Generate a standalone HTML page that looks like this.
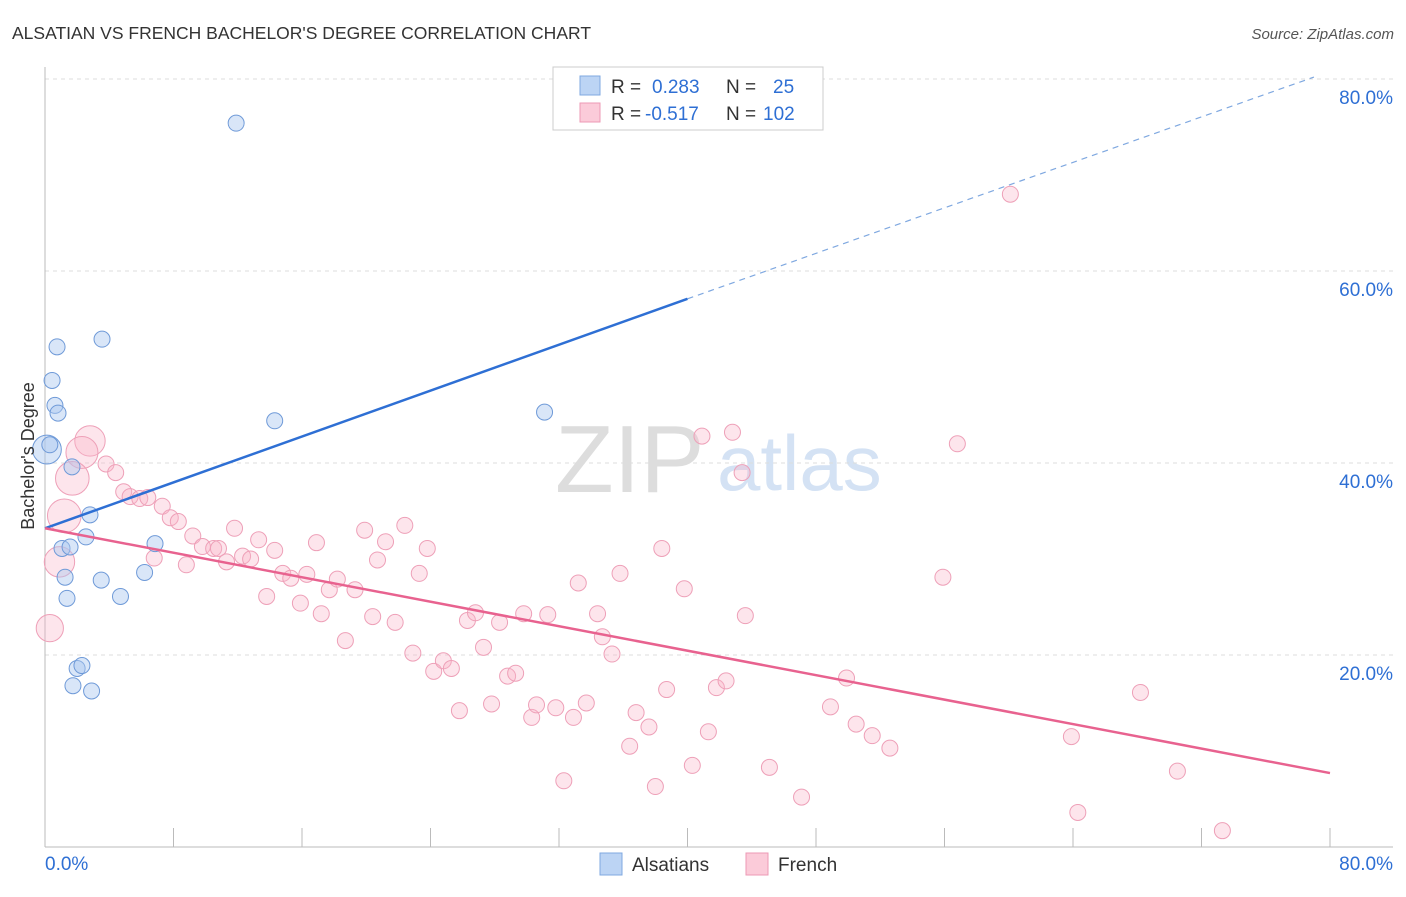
<!DOCTYPE html>
<html><head><meta charset="utf-8"><style>
body{margin:0;background:#fff;font-family:"Liberation Sans",sans-serif;}
svg text{font-family:"Liberation Sans",sans-serif;}
</style></head><body>
<svg id="chart" width="1406" height="892" xmlns="http://www.w3.org/2000/svg">
<text x="12" y="39" font-size="17.5" fill="#333">ALSATIAN VS FRENCH BACHELOR'S DEGREE CORRELATION CHART</text>
<text x="1394" y="39" font-size="15" fill="#555" font-style="italic" text-anchor="end">Source: ZipAtlas.com</text>
<text x="555" y="492" font-size="96" fill="#ddd" font-family="Liberation Serif">ZIP</text>
<text x="717" y="490" font-size="78" fill="#d4e2f4">atlas</text>
<g id="grid"></g>
<g id="axes"></g>
<g id="pts"></g>
<g id="lines"></g>
<text transform="translate(34,456) rotate(-90)" font-size="18" fill="#333" text-anchor="middle">Bachelor's Degree</text>
<g>
<rect x="553" y="67" width="270" height="63" fill="#fff" stroke="#ccc"/>
<rect x="580" y="76" width="20" height="19" fill="#bcd4f4" stroke="#7fa8e0"/>
<rect x="580" y="103" width="20" height="19" fill="#fbcbd9" stroke="#ec9ab5"/>
<text x="611" y="93" font-size="19" fill="#333">R = <tspan fill="#2e6fd4" x="652">0.283</tspan><tspan fill="#333" x="726">N =</tspan><tspan fill="#2e6fd4" x="773">25</tspan></text>
<text x="611" y="120" font-size="19" fill="#333">R = <tspan fill="#2e6fd4" x="645">-0.517</tspan><tspan fill="#333" x="726">N =</tspan><tspan fill="#2e6fd4" x="763">102</tspan></text>
</g>
<g>
<rect x="600" y="853" width="22" height="22" fill="#bcd4f4" stroke="#7fa8e0"/>
<text x="632" y="871" font-size="19" fill="#333">Alsatians</text>
<rect x="746" y="853" width="22" height="22" fill="#fbcbd9" stroke="#ec9ab5"/>
<text x="778" y="871" font-size="19" fill="#333">French</text>
</g>
</svg>
<script>
const blueX=[11.9,0.75,3.55,0.44,0.62,0.81,14.3,31.1,0.12,1.68,2.8,2.55,1.06,1.56,6.85,1.25,6.2,3.5,1.37,4.7,2.0,2.3,1.74,2.9,0.3];
const blueY=[75.4,52.1,52.9,48.6,46.0,45.2,44.4,45.3,41.4,39.6,34.6,32.3,31.1,31.25,31.6,28.1,28.6,27.8,25.9,26.1,18.6,18.9,16.8,16.25,41.9];
const blueSize=[1,1,1,1,1,1,1,1,1.8,1,1,1,1,1,1,1,1,1,1,1,1,1,1,1,1];
const pinkX=[60.1,40.9,42.8,43.4,56.8,2.8,2.3,1.7,3.8,4.4,1.2,0.9,0.3,4.9,5.3,5.9,6.4,7.3,7.8,8.3,9.2,6.8,8.8,9.8,10.5,10.8,11.3,11.8,12.3,12.8,13.3,14.3,13.8,14.8,15.3,15.9,16.3,16.9,17.2,17.7,18.2,18.7,19.3,19.9,20.4,20.7,21.2,21.8,22.4,22.9,23.3,23.8,24.2,24.8,25.3,25.8,26.3,26.8,27.3,27.8,28.3,28.8,29.3,29.8,30.3,30.6,31.3,31.8,32.3,32.9,33.2,33.7,34.4,34.7,35.3,35.8,36.4,36.8,37.6,38.0,38.4,38.7,39.8,40.3,41.3,41.8,42.4,43.6,45.1,47.1,48.9,49.9,50.5,51.5,52.6,55.9,63.9,64.3,68.2,70.5,73.3];
const pinkY=[68.0,42.8,43.2,39.0,42.0,42.3,41.1,38.4,39.9,39.0,34.5,29.7,22.8,37.0,36.5,36.3,36.4,35.5,34.3,33.9,32.4,30.1,29.4,31.3,31.1,31.1,29.7,33.2,30.3,30.0,32.0,30.9,26.1,28.5,28.0,25.4,28.4,31.7,24.3,26.8,27.9,21.5,26.8,33.0,24.0,29.9,31.8,23.4,33.5,20.2,28.5,31.1,18.3,19.4,18.6,14.2,23.6,24.4,20.8,14.9,23.4,17.8,18.1,24.3,13.5,14.8,24.2,14.5,6.9,13.5,27.5,15.0,24.3,21.9,20.1,28.5,10.5,14.0,12.5,6.3,31.1,16.4,26.9,8.5,12.0,16.6,17.3,24.1,8.3,5.2,14.6,17.6,12.8,11.6,10.3,28.1,11.5,3.6,16.1,7.9,1.7];
const pinkSize=[1,1,1,1,1,1.9,2,2.1,1,1,2.1,1.9,1.7];
const yTicks=[20,40,60,80];
const xTickCount=10;
const blueTrend=[[0,33.2],[40,57.1],[79,80.2]];
const pinkTrend=[[0,33.2],[80,7.7]];
const X=v=>45+v*1285/80, Y=v=>847-v*9.6;
const NS='http://www.w3.org/2000/svg';
function mk(t,a,p){const e=document.createElementNS(NS,t);for(const k in a)e.setAttribute(k,a[k]);document.getElementById(p).appendChild(e);return e;}
yTicks.forEach(t=>{
 const l=mk('line',{x1:45,x2:1393,y1:Y(t),y2:Y(t),stroke:'#ddd','stroke-dasharray':'4,4'},'grid');
 
 
 const tx=mk('text',{x:1393,y:Y(t)+25,'font-size':19,fill:'#2e6fd4','text-anchor':'end'},'grid');tx.textContent=t.toFixed(1)+'%';
 
 
});
let ax=mk('line',{x1:45,x2:1393,y1:847,y2:847,stroke:'#bbb'},'axes');


ax=mk('line',{x1:45,x2:45,y1:67,y2:847,stroke:'#bbb'},'axes');


for(let i=0;i<=xTickCount;i++){const t=mk('line',{x1:X(i*8),x2:X(i*8),y1:828,y2:847,stroke:'#bbb'},'axes');
 
 }
let lt=mk('text',{x:45,y:870,'font-size':19,fill:'#2e6fd4'},'axes');lt.textContent='0.0%';


lt=mk('text',{x:1393,y:870,'font-size':19,fill:'#2e6fd4','text-anchor':'end'},'axes');lt.textContent='80.0%';


pinkX.forEach((x,i)=>{const c=mk('circle',{cx:X(x),cy:Y(pinkY[i]),r:8*(pinkSize[i]||1),fill:'rgba(248,180,200,0.35)',stroke:'#eea0b8','stroke-width':1},'pts');
 
 });
blueX.forEach((x,i)=>{const c=mk('circle',{cx:X(x),cy:Y(blueY[i]),r:8*(blueSize[i]||1),fill:'rgba(170,200,240,0.45)',stroke:'#6f9ad8','stroke-width':1},'pts');
 
 });
let tl=mk('line',{x1:X(blueTrend[0][0]),y1:Y(blueTrend[0][1]),x2:X(blueTrend[1][0]),y2:Y(blueTrend[1][1]),stroke:'#2e6fd4','stroke-width':2.5},'lines');


tl=mk('line',{x1:X(blueTrend[1][0]),y1:Y(blueTrend[1][1]),x2:X(blueTrend[2][0]),y2:Y(blueTrend[2][1]),stroke:'#7fa8e0','stroke-width':1.2,'stroke-dasharray':'6,5'},'lines');


tl=mk('line',{x1:X(pinkTrend[0][0]),y1:Y(pinkTrend[0][1]),x2:X(pinkTrend[1][0]),y2:Y(pinkTrend[1][1]),stroke:'#e8628f','stroke-width':2.5},'lines');


</script>
</body></html>
